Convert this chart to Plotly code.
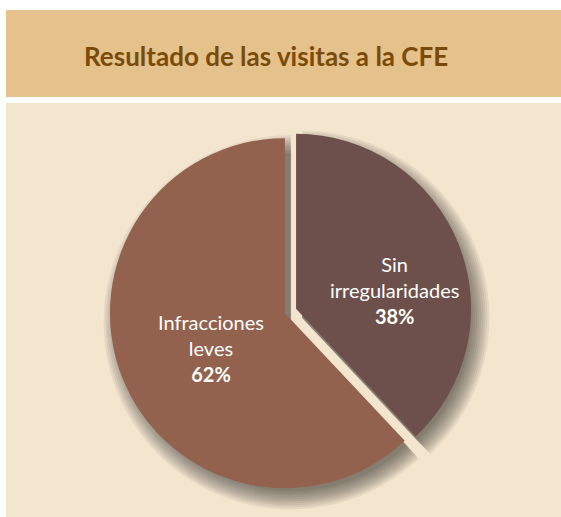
import plotly.graph_objects as go

title_text = "Resultado de las visitas a la CFE"
labels = ["Sin<br>irregularidades", "Infracciones<br>leves"]
values = [38, 62]
colors = ["#6D504B", "#93624E"]
pulls = [0.034, 0.034]

W, H = 561, 517
FONT = "Lato"

def px(x):
    return x / W

def py(y):
    return 1 - y / H

# pie geometry (screen pixels)
cx, cy, R = 290.5, 311.0, 175.0
maxpull = max(pulls)

def dom(cx, cy, r):
    half = r * (1 + maxpull)
    return dict(x=[max(0, px(cx - half)), min(1, px(cx + half))],
                y=[max(0, py(cy + half)), min(1, py(cy - half))])

fig = go.Figure()

# soft shadow: stacked translucent discs
for b in range(-6, 14, 2):
    fig.add_trace(go.Pie(
        labels=labels, values=values, sort=False, direction="clockwise", rotation=0,
        pull=pulls, marker=dict(colors=["#2c2a25"] * 2, line=dict(width=0)),
        opacity=0.07, textinfo="none", hoverinfo="skip", showlegend=False,
        domain=dom(cx + 6, cy + 9, R + b)))

fig.add_trace(go.Pie(
    labels=labels, values=values, sort=False, direction="clockwise", rotation=0,
    pull=pulls, marker=dict(colors=colors, line=dict(width=0)),
    textinfo="none", hoverinfo="label+percent", showlegend=False,
    domain=dom(cx, cy, R)))

# label anchors (screen pixels, relative to pie center)
label_offsets = [(103.5, -21), (-79.5, 37)]
total = sum(values)
annots = [dict(text="<b>" + title_text + "</b>", xref="paper", yref="paper",
               x=px(265.5), y=py(56), xanchor="center", yanchor="middle",
               showarrow=False, font=dict(family=FONT, size=26, color="#7A4A08"))]
for lab, v, (dx, dy) in zip(labels, values, label_offsets):
    annots.append(dict(
        text=f"{lab}<br><b>{round(v / total * 100)}%</b>",
        xref="paper", yref="paper", x=px(cx + dx), y=py(cy + dy),
        xanchor="center", yanchor="middle", showarrow=False, align="center",
        font=dict(family=FONT, size=20, color="white")))

def rect(x0, x1, y0, y1, color):
    return dict(type="rect", xref="paper", yref="paper",
                x0=x0, x1=x1, y0=y0, y1=y1, fillcolor=color, line=dict(width=0))

fig.update_layout(
    width=W, height=H, margin=dict(l=0, r=0, t=0, b=0),
    paper_bgcolor="#F4E5CF",
    shapes=[
        rect(0, 1, py(103), 1, "white"),
        rect(0, px(6), 0, 1, "white"),
        rect(px(6), 1, py(97), py(10), "#E5C18B"),
    ],
    annotations=annots,
)

fig.write_html(
    "out.html",
    config={"displayModeBar": False},
    post_script="document.body.style.margin='0';document.body.style.overflow='hidden';",
)
